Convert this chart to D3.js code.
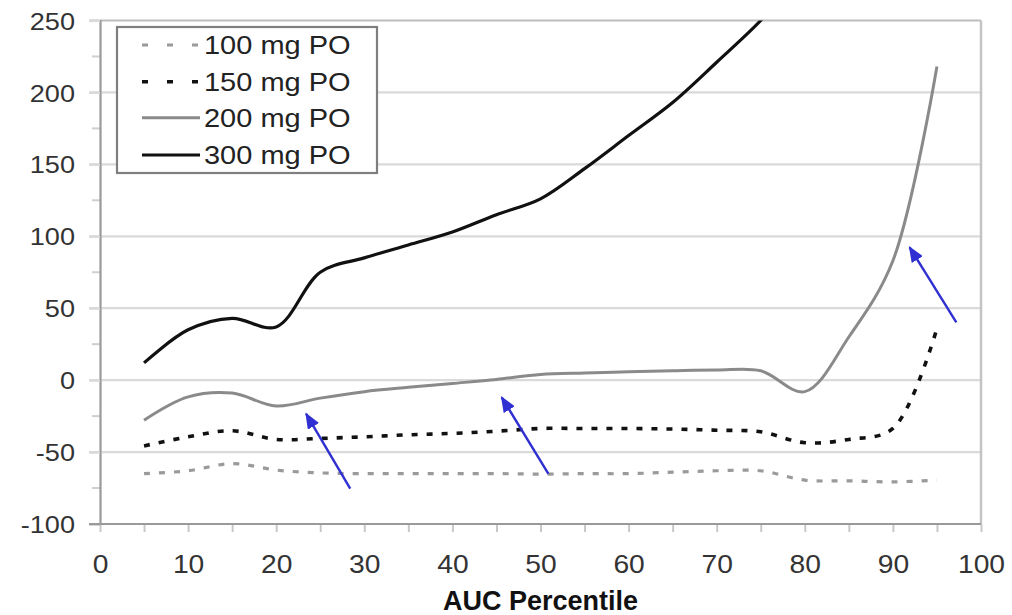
<!DOCTYPE html>
<html><head><meta charset="utf-8">
<script src="https://cdn.jsdelivr.net/npm/d3@7"></script>
<style>body{margin:0;background:#fff}svg{display:block}</style>
</head><body>
<svg id="c" width="1012" height="615"></svg>
<script>
// ---- data ----
const percentiles = [5,10,15,20,25,30,35,40,45,50,55,60,65,70,75,80,85,90,95];
const dose100 = [-65,-63,-58,-62.5,-64.5,-65,-65,-65,-65,-65.3,-65,-65,-64,-63,-63,-69.5,-70,-70.7,-69.5];
const dose150 = [-45.7,-39.4,-35.2,-41.2,-40.5,-39.4,-38,-37,-35.5,-33.6,-33.6,-33.6,-34,-34.8,-35.9,-43.5,-41.2,-33.6,36];
const dose200 = [-27.8,-11.6,-9,-18,-12.5,-8,-5,-2.3,0.5,4,5,5.8,6.5,7,6.5,-8,30,83,218];
const dose300 = [12,35,43,37,75,85,94,103,115,126,147,170,193,221,250,285,330,385,450];
const seriesNames = ["100 mg PO","150 mg PO","200 mg PO","300 mg PO"];
const xTicks = [0,10,20,30,40,50,60,70,80,90,100];
const yTicks = [-100,-50,0,50,100,150,200,250];
const xTitle = "AUC Percentile";
// annotation arrows [fromX, fromY, toX, toY] in data units
const arrowTails = [[28.4,-75.4],[50.9,-65.2],[97.2,40.2]];
const arrowTips  = [[23.4,-23.5],[45.6,-12],[91.9,92.3]];

// ---- layout ----
const svg = d3.select("#c");
const L=100, R=981, T=20.5, B=524;
const x = d3.scaleLinear().domain([0,100]).range([L,R]);
const y = d3.scaleLinear().domain([-100,250]).range([B,T]);
const SX = 1.13;
const FONT = "'Liberation Sans', Arial, sans-serif";

const defs = svg.append("defs");
defs.append("clipPath").attr("id","plot").append("rect")
  .attr("x",L).attr("y",T).attr("width",R-L).attr("height",B-T);
defs.append("marker").attr("id","ah").attr("viewBox","0 0 10 10")
  .attr("refX",9).attr("refY",5).attr("markerWidth",16).attr("markerHeight",13)
  .attr("markerUnits","userSpaceOnUse").attr("orient","auto")
  .attr("preserveAspectRatio","none")
  .append("path").attr("d","M0,0 L10,5 L0,10 z").attr("fill","#2f2fd2");

// gridlines
svg.append("g").selectAll("line").data(yTicks.filter(v=>v>-100 && v<250)).join("line")
  .attr("x1",89).attr("x2",R).attr("y1",d=>y(d)).attr("y2",d=>y(d))
  .attr("stroke","#dadada").attr("stroke-width",2.2);
// top & right border
svg.append("line").attr("x1",89).attr("x2",R).attr("y1",T).attr("y2",T)
  .attr("stroke","#bdbdbd").attr("stroke-width",2.2);
svg.append("line").attr("x1",R).attr("x2",R).attr("y1",T).attr("y2",B)
  .attr("stroke","#c4c4c4").attr("stroke-width",2.5);

// minor y ticks
const minorY = d3.range(-75,250,50);
svg.append("g").selectAll("line").data(minorY).join("line")
  .attr("x1",92).attr("x2",L).attr("y1",d=>y(d)).attr("y2",d=>y(d))
  .attr("stroke","#cfcfcf").attr("stroke-width",2);

// y axis
const yAxis = svg.append("g").attr("transform",`translate(${L},0)`)
  .call(d3.axisLeft(y).tickValues(yTicks).tickSize(11).tickPadding(0).tickFormat(d=>String(d)));
yAxis.select(".domain").attr("stroke","#9a9a9a").attr("stroke-width",2.2);
yAxis.selectAll(".tick line").attr("stroke","#dadada").attr("stroke-width",2.2);
yAxis.selectAll(".tick text").attr("font-family",FONT).attr("font-size",24)
  .attr("fill","#333").attr("x",-25/SX).attr("dy","0.36em")
  .attr("transform",`scale(${SX},1)`);

// x axis
const xAxis = svg.append("g").attr("transform",`translate(0,${B})`)
  .call(d3.axisBottom(x).tickValues(d3.range(0,101,5)).tickSize(8).tickPadding(0)
    .tickFormat(d=> xTicks.includes(d) ? String(d) : ""));
xAxis.select(".domain").remove();
svg.append("line").attr("x1",89).attr("x2",R).attr("y1",B).attr("y2",B)
  .attr("stroke","#9a9a9a").attr("stroke-width",2.2);
xAxis.selectAll(".tick line").attr("stroke","#c8c8c8").attr("stroke-width",2);
xAxis.selectAll(".tick text").attr("font-family",FONT).attr("font-size",25)
  .attr("fill","#333").attr("y",49).attr("dy",0)
  .attr("transform",`scale(${SX},1)`)
  .attr("x",0).attr("text-anchor","middle");

// axis title
svg.append("text").attr("x",(L+R)/2).attr("y",610).attr("text-anchor","middle")
  .attr("font-family",FONT).attr("font-weight","bold").attr("font-size",27)
  .attr("fill","#111").text(xTitle);

// series
const styles = [
  {data:dose100, color:"#9a9a9a", w:3.2, dash:"6,9"},
  {data:dose150, color:"#111", w:3.6, dash:"6,9"},
  {data:dose200, color:"#8a8a8a", w:3, dash:null},
  {data:dose300, color:"#111", w:3.2, dash:null}
];
const line = d3.line().x(d=>x(d[0])).y(d=>y(d[1])).curve(d3.curveCatmullRom.alpha(0.5));
const plot = svg.append("g").attr("clip-path","url(#plot)");
styles.forEach(s=>{
  plot.append("path").datum(percentiles.map((p,i)=>[p,s.data[i]]))
    .attr("d",line).attr("fill","none").attr("stroke",s.color)
    .attr("stroke-width",s.w).attr("stroke-dasharray",s.dash)
    .attr("stroke-linejoin","round");
});

// arrows
svg.append("g").selectAll("line").data(arrowTails).join("line")
  .attr("x1",d=>x(d[0])).attr("y1",d=>y(d[1]))
  .attr("x2",(d,i)=>x(arrowTips[i][0])).attr("y2",(d,i)=>y(arrowTips[i][1]))
  .attr("stroke","#2f2fd2").attr("stroke-width",2.4).attr("marker-end","url(#ah)");

// legend
const lg = svg.append("g");
lg.append("rect").attr("x",117).attr("y",27).attr("width",260).attr("height",146)
  .attr("fill","#fff").attr("stroke","#7f7f7f").attr("stroke-width",2.2);
const rowY = [45,81.7,117.7,155];
seriesNames.forEach((n,i)=>{
  const s = styles[i];
  lg.append("line").attr("x1",142).attr("x2",200).attr("y1",rowY[i]).attr("y2",rowY[i])
    .attr("stroke",s.color).attr("stroke-width",s.w)
    .attr("stroke-dasharray", s.dash ? "6,19" : null);
  lg.append("text").attr("transform",`translate(204,${rowY[i]}) scale(1.16,1)`)
    .attr("dy","0.36em").attr("font-family",FONT).attr("font-size",25)
    .attr("fill","#222").text(n);
});
</script>
</body></html>
